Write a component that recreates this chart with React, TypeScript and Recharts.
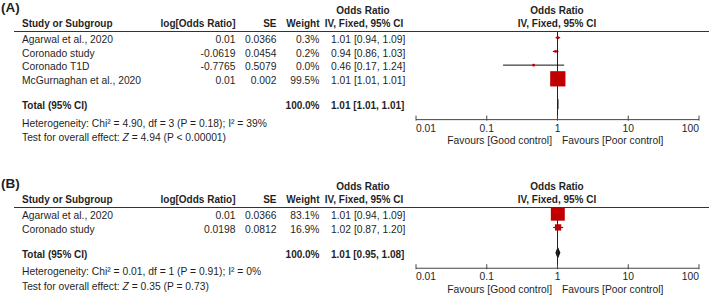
import React from 'react';
import { ComposedChart, Scatter, ErrorBar, Area, XAxis, YAxis, ReferenceLine } from 'recharts';

// ---- data: panel A ----
const studiesA = ['Agarwal et al., 2020', 'Coronado study', 'Coronado T1D', 'McGurnaghan et al., 2020'];
const logOrA = [0.01, -0.0619, -0.7765, 0.01];
const seA = [0.0366, 0.0454, 0.5079, 0.002];
const weightA = [0.3, 0.2, 0.0, 99.5];
const orA = [1.01, 0.94, 0.46, 1.01];
const lowerA = [0.94, 0.86, 0.17, 1.01];
const upperA = [1.09, 1.03, 1.24, 1.01];
const totalA = [1.01, 1.01, 1.01]; // OR, lower, upper
const hetA = ['4.90', '3', '0.18', '39']; // Chi², df, P, I²
const effectA = ['4.94', '< 0.00001']; // Z, P

// ---- data: panel B ----
const studiesB = ['Agarwal et al., 2020', 'Coronado study'];
const logOrB = [0.01, 0.0198];
const seB = [0.0366, 0.0812];
const weightB = [83.1, 16.9];
const orB = [1.01, 1.02];
const lowerB = [0.94, 0.87];
const upperB = [1.09, 1.2];
const totalB = [1.01, 0.95, 1.08];
const hetB = ['0.01', '1', '0.91', '0'];
const effectB = ['0.35', '= 0.73'];

const xTicks = [0.01, 0.1, 1, 10, 100];

const FONT = 'Arial, "Liberation Sans", sans-serif';
const TXT = '#1f1f1f';
const RED = '#c00000';
const FS = 10.3;
const FSB = 10;

const ROW = 13.7;
const HEAD = 31;
const Y_MIN = -0.49;
const PLOT_LEFT = 416;
const X_ONE = 557;

const fmt2 = (v: number) => v.toFixed(2);

const LogTick = (props: any) => {
  const { x, y, payload, index } = props;
  const anchor = index === 0 ? 'start' : index === xTicks.length - 1 ? 'end' : 'middle';
  return (
    <g>
      <line x1={x} x2={x} y1={y - 4} y2={y + 1} stroke="#444" />
      <text x={x} y={y + 12} textAnchor={anchor} fontFamily={FONT} fontSize={FS} fill={TXT}>
        {String(payload.value)}
      </text>
    </g>
  );
};

const Square = (props: any) => {
  const { cx, cy, payload } = props;
  if (cx == null || cy == null) return <g />;
  const s = Math.max(2.5, 15.3 * Math.sqrt(payload.w / 100));
  return <rect x={cx - s / 2} y={cy - s / 2} width={s} height={s} fill={RED} />;
};

const Panel = ({ tag, top, height, studies, logOr, se, weight, or, lower, upper, total, het, effect }: any) => {
  const n = studies.length;
  const totalSlot = n - 1 + 1.85;
  const yMax = n - 1 + 2.98;
  const plotH = (yMax - Y_MIN) * ROW;
  const axisY = HEAD + plotH;
  const xAxisH = 22;
  const markerY = (s: number) => HEAD + (s - Y_MIN) * ROW;

  const rows = studies.map((_: string, i: number) => ({
    x: or[i],
    y: i,
    w: weight[i],
    err: [or[i] - lower[i], upper[i] - or[i]],
  }));
  const diamond = [
    { x: total[1], band: [totalSlot, totalSlot] },
    { x: total[0], band: [totalSlot - 0.36, totalSlot + 0.36] },
    { x: total[2], band: [totalSlot, totalSlot] },
  ];

  const t = (x: number, y: number, content: any, extra: any = {}) => (
    <text x={x} y={y} fontFamily={FONT} fontSize={FS} fill={TXT} {...extra}>
      {content}
    </text>
  );
  const b = (x: number, y: number, content: any, anchor = 'start') =>
    t(x, y, content, { fontWeight: 'bold', fontSize: FSB, textAnchor: anchor });

  const totalBase = markerY(totalSlot) + 5;

  return (
    <div style={{ position: 'absolute', left: 0, top, width: 709, height }}>
      <ComposedChart
        width={709}
        height={height}
        data={diamond}
        margin={{ top: HEAD, right: 709 - 699, left: PLOT_LEFT, bottom: height - HEAD - plotH - xAxisH }}
      >
        <XAxis
          dataKey="x"
          type="number"
          scale="log"
          domain={[0.01, 100]}
          ticks={xTicks}
          interval={0}
          allowDataOverflow
          height={xAxisH}
          tickLine={false}
          tickSize={0}
          tickMargin={0}
          axisLine={{ stroke: '#444' }}
          tick={<LogTick />}
        />
        <YAxis dataKey="y" type="number" domain={[Y_MIN, yMax]} reversed hide allowDataOverflow />
        <ReferenceLine x={1} stroke="#222" strokeWidth={1} />
        <Scatter data={rows} shape={() => <g />} isAnimationActive={false}>
          <ErrorBar dataKey="err" direction="x" width={0} stroke="#111" strokeWidth={1} isAnimationActive={false} />
        </Scatter>
        <Scatter data={rows} shape={<Square />} isAnimationActive={false} />
        <Area
          dataKey="band"
          type="linear"
          stroke="#111"
          strokeWidth={1}
          fill="#111"
          fillOpacity={1}
          dot={false}
          activeDot={false}
          isAnimationActive={false}
        />
      </ComposedChart>
      <svg width={709} height={height} style={{ position: 'absolute', left: 0, top: 0, pointerEvents: 'none' }}>
        <text x={1} y={11.5} fontFamily={FONT} fontSize={13.5} fontWeight="bold" fill={TXT}>
          {tag}
        </text>
        {b(363, 13.5, 'Odds Ratio', 'middle')}
        {b(557, 13.5, 'Odds Ratio', 'middle')}
        {b(22, 27.3, 'Study or Subgroup')}
        {b(235.5, 27.3, 'log[Odds Ratio]', 'end')}
        {b(276.5, 27.3, 'SE', 'end')}
        {b(319.5, 27.3, 'Weight', 'end')}
        {b(364, 27.3, 'IV, Fixed, 95% CI', 'middle')}
        {b(557, 27.3, 'IV, Fixed, 95% CI', 'middle')}
        <line x1={14} x2={709} y1={HEAD + 0.5} y2={HEAD + 0.5} stroke="#333" />
        {studies.map((s: string, i: number) => {
          const yb = markerY(i) + 5.3;
          return (
            <g key={s + i}>
              {t(22, yb, s)}
              {t(235.5, yb, String(logOr[i]), { textAnchor: 'end' })}
              {t(276.5, yb, String(se[i]), { textAnchor: 'end' })}
              {t(319.5, yb, `${weight[i].toFixed(1)}%`, { textAnchor: 'end' })}
              {t(331, yb, `${fmt2(or[i])} [${fmt2(lower[i])}, ${fmt2(upper[i])}]`)}
            </g>
          );
        })}
        {b(22, totalBase, 'Total (95% CI)')}
        {b(319.5, totalBase, '100.0%', 'end')}
        {b(331, totalBase, `${fmt2(total[0])} [${fmt2(total[1])}, ${fmt2(total[2])}]`)}
        {t(22, axisY + 7, `Heterogeneity: Chi² = ${het[0]}, df = ${het[1]} (P = ${het[2]}); I² = ${het[3]}%`)}
        {t(
          22,
          axisY + 21.5,
          <>
            Test for overall effect: <tspan fontStyle="italic">Z</tspan> = {effect[0]} (P {effect[1]})
          </>
        )}
        {t(X_ONE - 5, axisY + 24.5, 'Favours [Good control]', { textAnchor: 'end' })}
        {t(X_ONE + 5, axisY + 24.5, 'Favours [Poor control]')}
      </svg>
    </div>
  );
};

export default function App() {
  return (
    <div style={{ position: 'absolute', left: 0, top: 0, width: 709, height: 296, background: '#fff' }}>
      <Panel
        tag="(A)"
        top={0}
        height={176}
        studies={studiesA}
        logOr={logOrA}
        se={seA}
        weight={weightA}
        or={orA}
        lower={lowerA}
        upper={upperA}
        total={totalA}
        het={hetA}
        effect={effectA}
      />
      <Panel
        tag="(B)"
        top={176}
        height={120}
        studies={studiesB}
        logOr={logOrB}
        se={seB}
        weight={weightB}
        or={orB}
        lower={lowerB}
        upper={upperB}
        total={totalB}
        het={hetB}
        effect={effectB}
      />
    </div>
  );
}
